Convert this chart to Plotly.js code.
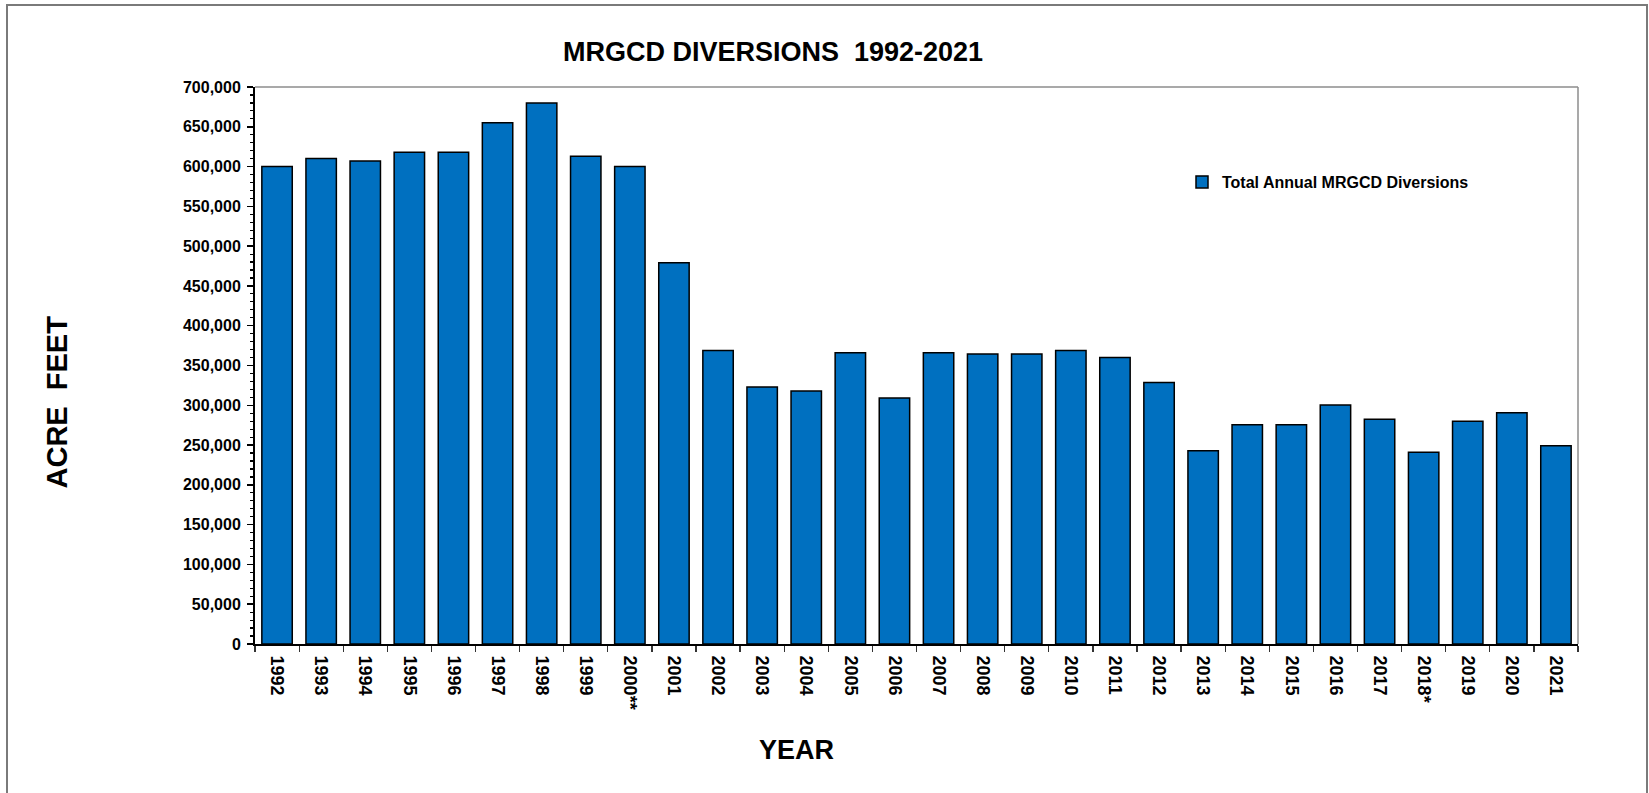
<!DOCTYPE html>
<html>
<head>
<meta charset="utf-8">
<script src="https://cdn.plot.ly/plotly-3.0.1.min.js"></script>
<style>
  html, body { margin: 0; padding: 0; background: #ffffff; }
  #chart { width: 1649px; height: 793px; }
</style>
</head>
<body>
<div id="chart"></div>
<script>
// ---- Data ----
const years = ["1992","1993","1994","1995","1996","1997","1998","1999","2000**","2001",
               "2002","2003","2004","2005","2006","2007","2008","2009","2010","2011",
               "2012","2013","2014","2015","2016","2017","2018*","2019","2020","2021"];
const diversions = [600000, 610000, 607000, 618000, 618000, 655000, 680000, 613000, 600000, 479000,
                    369000, 323000, 318000, 366000, 309000, 366000, 364500, 364500, 369000, 360000,
                    328500, 243000, 275500, 275500, 300500, 282500, 241000, 280000, 290500, 249000];
const seriesName = "Total Annual MRGCD Diversions";
const chartTitle = "MRGCD DIVERSIONS&nbsp;&nbsp;1992-2021";
const yTitle = "ACRE&nbsp;&nbsp;FEET";
const xTitle = "YEAR";

// ---- Layout geometry (pixels) ----
const W = 1649, H = 793;
const L = 255, R = 1578, T = 87, B = 644;
const pw = R - L, ph = B - T;
const px = x => (x - L) / pw;
const py = y => (B - y) / ph;

const FONT = "Liberation Sans, Arial, Helvetica, sans-serif";

const trace = {
  type: "bar",
  x: years,
  y: diversions,
  name: seriesName,
  showlegend: true,
  marker: { color: "#0070C0", line: { color: "#000000", width: 1.5 } },
  hoverinfo: "x+y"
};

const layout = {
  width: W, height: H,
  margin: { l: L, r: W - R, t: T, b: H - B, pad: 0 },
  paper_bgcolor: "#ffffff",
  plot_bgcolor: "#ffffff",
  bargap: 0.31,
  font: { family: FONT, color: "#000000", size: 16, weight: "bold" },
  title: {
    text: chartTitle,
    font: { family: FONT, size: 27, color: "#000000", weight: "bold" },
    xref: "container", x: 773 / W, xanchor: "center",
    yref: "container", y: 1 - 52 / H, yanchor: "middle"
  },
  showlegend: true,
  legend: {
    x: px(1182), xanchor: "left",
    y: py(182), yanchor: "middle",
    bgcolor: "rgba(0,0,0,0)",
    font: { family: FONT, size: 16, color: "#000000", weight: "bold" },
    itemclick: false
  },
  xaxis: {
    type: "category",
    showgrid: false,
    zeroline: false,
    showline: true, linecolor: "#000000", linewidth: 2,
    ticks: "outside", ticklen: 6, tickwidth: 1.2, tickcolor: "#333333",
    tickson: "boundaries",
    tickangle: 90,
    ticklabelstandoff: 6,
    tickfont: { family: FONT, size: 18, color: "#000000", weight: "bold" },
    fixedrange: true
  },
  yaxis: {
    range: [0, 700000],
    dtick: 50000,
    tickformat: ",d",
    showgrid: false,
    zeroline: false,
    showline: true, linecolor: "#000000", linewidth: 2,
    ticks: "outside", ticklen: 6, tickwidth: 1.5, tickcolor: "#000000",
    ticklabelstandoff: 3,
    minor: { dtick: 10000, ticks: "outside", ticklen: 3, tickwidth: 1.2, tickcolor: "#000000", showgrid: false },
    tickfont: { family: FONT, size: 16, color: "#000000", weight: "bold" },
    fixedrange: true
  },
  shapes: [
    // plot frame top and right (gray)
    { type: "line", xref: "paper", yref: "paper", x0: 0, x1: 1, y0: 1, y1: 1,
      line: { color: "#8c8c8c", width: 1.5 } },
    { type: "line", xref: "paper", yref: "paper", x0: 1, x1: 1, y0: 0, y1: 1,
      line: { color: "#8c8c8c", width: 1.5 } },
    // outer chart border
    { type: "rect", xref: "paper", yref: "paper",
      x0: px(7), x1: px(1647), y0: py(5), y1: py(820),
      line: { color: "#7a7a7a", width: 2 }, fillcolor: "rgba(0,0,0,0)", layer: "below" }
  ],
  annotations: [
    { text: yTitle, xref: "paper", yref: "paper", x: px(56.5), y: py(402),
      xanchor: "center", yanchor: "middle", textangle: -90, showarrow: false,
      font: { family: FONT, size: 29, color: "#000000", weight: "bold" } },
    { text: xTitle, xref: "paper", yref: "paper", x: px(796), y: py(750),
      xanchor: "center", yanchor: "middle", showarrow: false,
      font: { family: FONT, size: 27, color: "#000000", weight: "bold" } }
  ]
};

Plotly.newPlot("chart", [trace], layout, { displayModeBar: false, staticPlot: true });
</script>
</body>
</html>
